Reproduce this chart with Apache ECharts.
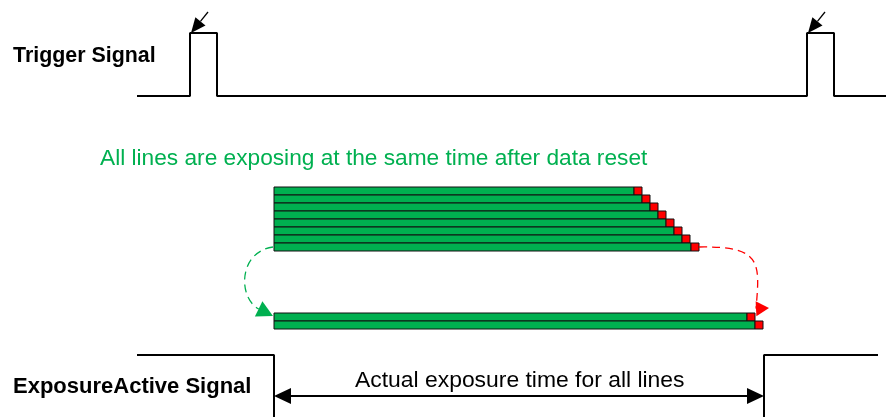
<!DOCTYPE html>
<html>
<head>
<meta charset="utf-8">
<script src="https://cdn.jsdelivr.net/npm/echarts@6/dist/echarts.min.js"></script>
<style>
  html, body { margin: 0; padding: 0; background: #fff; }
  #chart { width: 886px; height: 417px; }
</style>
</head>
<body>
<div id="chart"></div>
<script>
// time runs along x (0..886), signal level along y (0..417, top down)
const triggerRises = [190, 807];
const triggerPulse = 27;
const triggerLevels = [96, 33];      // low, high
const traceStart = 137;
const traceEnd = 886;
const exposureStart = 274;
const exposureEnd = 764;
const exposureLevels = [417, 355];   // low, high
const exposureTraceEnd = 878;
const upperRowEnds = [634, 642, 650, 658, 666, 674, 682, 691];
const lowerRowEnds = [747, 755];
const upperRowTop = 187;
const lowerRowTop = 313;
const rowHeight = 8;
const readoutTime = 8;
const signalNames = ['Trigger Signal', 'ExposureActive Signal'];
const noteText = 'All lines are exposing at the same time after data reset';
const spanText = 'Actual exposure time for all lines';

const GREEN = '#00b050';
const RED = '#ff0000';
const FONT = '"Liberation Sans", Arial, sans-serif';

// trigger trace
const triggerLine = [[traceStart, triggerLevels[0]]];
triggerRises.forEach(r => {
  triggerLine.push([r, triggerLevels[0]], [r, triggerLevels[1]],
    [r + triggerPulse, triggerLevels[1]], [r + triggerPulse, triggerLevels[0]]);
});
triggerLine.push([traceEnd, triggerLevels[0]]);

// exposure active trace (two pieces)
const exposureLineA = [[traceStart, exposureLevels[1]], [exposureStart, exposureLevels[1]], [exposureStart, exposureLevels[0]]];
const exposureLineB = [[exposureEnd, exposureLevels[0]], [exposureEnd, exposureLevels[1]], [exposureTraceEnd, exposureLevels[1]]];

// rows: [start, end, top, kind] kind 0 = exposing, 1 = readout
const rows = [];
upperRowEnds.forEach((e, i) => {
  const top = upperRowTop + i * rowHeight;
  rows.push([exposureStart, e, top, 0], [e, e + readoutTime, top, 1]);
});
lowerRowEnds.forEach((e, i) => {
  const top = lowerRowTop + i * rowHeight;
  rows.push([exposureStart, e, top, 0], [e, e + readoutTime, top, 1]);
});

const lastUpperMid = upperRowTop + (upperRowEnds.length - 0.5) * rowHeight;
const arrows = [];
triggerRises.forEach(r => {
  arrows.push({ from: [r + 18, 12], tip: [r + 1, triggerLevels[1]], len: 15, half: 6.5, color: '#000', width: 1.3 });
});
arrows.push({ from: [exposureStart, 396], tip: [exposureEnd, 396], both: true, len: 17, half: 8, color: '#000', width: 2 });
arrows.push({ from: [exposureStart - 1, lastUpperMid], c1: [238, 252], c2: [238, 298], tip: [273, lowerRowTop + 3],
  dir: [13, 6.4], len: 16, half: 8.5, color: GREEN, width: 1.3, dash: true });
arrows.push({ from: [upperRowEnds[upperRowEnds.length - 1] + readoutTime, lastUpperMid], c1: [762, 246], c2: [760, 262],
  tip: [769, 308], dir: [1, -0.05], len: 13, half: 7.5, color: RED, width: 1.3, dash: true });

function norm(v) { const l = Math.hypot(v[0], v[1]); return [v[0] / l, v[1] / l]; }
function headPoly(tip, d, len, half) {
  const b = [tip[0] - d[0] * len, tip[1] - d[1] * len];
  const n = [-d[1], d[0]];
  return { base: b, points: [tip, [b[0] + n[0] * half, b[1] + n[1] * half], [b[0] - n[0] * half, b[1] - n[1] * half]] };
}

function renderArrow(params, api) {
  const s = arrows[params.dataIndex];
  const a = api.coord(s.from), t = api.coord(s.tip);
  const children = [];
  const d = norm(s.dir || [t[0] - a[0], t[1] - a[1]]);
  const h1 = headPoly(t, d, s.len, s.half);
  children.push({ type: 'polygon', shape: { points: h1.points }, style: { fill: s.color } });
  if (s.c1) {
    const c1 = api.coord(s.c1), c2 = api.coord(s.c2);
    children.push({
      type: 'bezierCurve',
      shape: { x1: a[0], y1: a[1], cpx1: c1[0], cpy1: c1[1], cpx2: c2[0], cpy2: c2[1], x2: h1.base[0], y2: h1.base[1] },
      style: { stroke: s.color, lineWidth: s.width, lineDash: [8, 5], fill: null }
    });
  } else {
    let start = a;
    if (s.both) {
      const h0 = headPoly(a, [-d[0], -d[1]], s.len, s.half);
      children.push({ type: 'polygon', shape: { points: h0.points }, style: { fill: s.color } });
      start = h0.base;
    }
    children.push({
      type: 'line',
      shape: { x1: start[0], y1: start[1], x2: h1.base[0], y2: h1.base[1] },
      style: { stroke: s.color, lineWidth: s.width }
    });
  }
  return { type: 'group', children };
}

function renderRow(params, api) {
  const p = api.coord([api.value(0), api.value(2)]);
  const sz = api.size([api.value(1) - api.value(0), rowHeight]);
  return {
    type: 'rect',
    shape: { x: p[0], y: p[1], width: sz[0], height: sz[1] },
    style: { fill: api.value(3) === 1 ? RED : GREEN, stroke: '#111', lineWidth: 1 }
  };
}

const traceStyle = { color: '#000', width: 2 };
const chart = echarts.init(document.getElementById('chart'));
chart.setOption({
  animation: false,
  grid: { left: 0, right: 0, top: 0, bottom: 0 },
  xAxis: { type: 'value', min: 0, max: 886, show: false },
  yAxis: { type: 'value', min: 0, max: 417, inverse: true, show: false },
  series: [
    { type: 'line', data: triggerLine, symbol: 'none', lineStyle: traceStyle },
    { type: 'line', data: exposureLineA, symbol: 'none', lineStyle: traceStyle },
    { type: 'line', data: exposureLineB, symbol: 'none', lineStyle: traceStyle },
    { type: 'custom', renderItem: renderRow, data: rows, encode: { x: [0, 1], y: 2 } },
    { type: 'custom', renderItem: renderArrow, data: arrows.map((a, i) => [a.tip[0], a.tip[1]]) }
  ],
  graphic: [
    { type: 'text', left: 13, top: 46, style: { text: signalNames[0], font: 'bold 21.4px ' + FONT, fill: '#000' } },
    { type: 'text', left: 13, top: 376, style: { text: signalNames[1], font: 'bold 22px ' + FONT, fill: '#000' } },
    { type: 'text', left: 100, top: 147, style: { text: noteText, font: '22.7px ' + FONT, fill: GREEN } },
    { type: 'text', left: 355, top: 369, style: { text: spanText, font: '22.9px ' + FONT, fill: '#000' } }
  ]
});
</script>
</body>
</html>
